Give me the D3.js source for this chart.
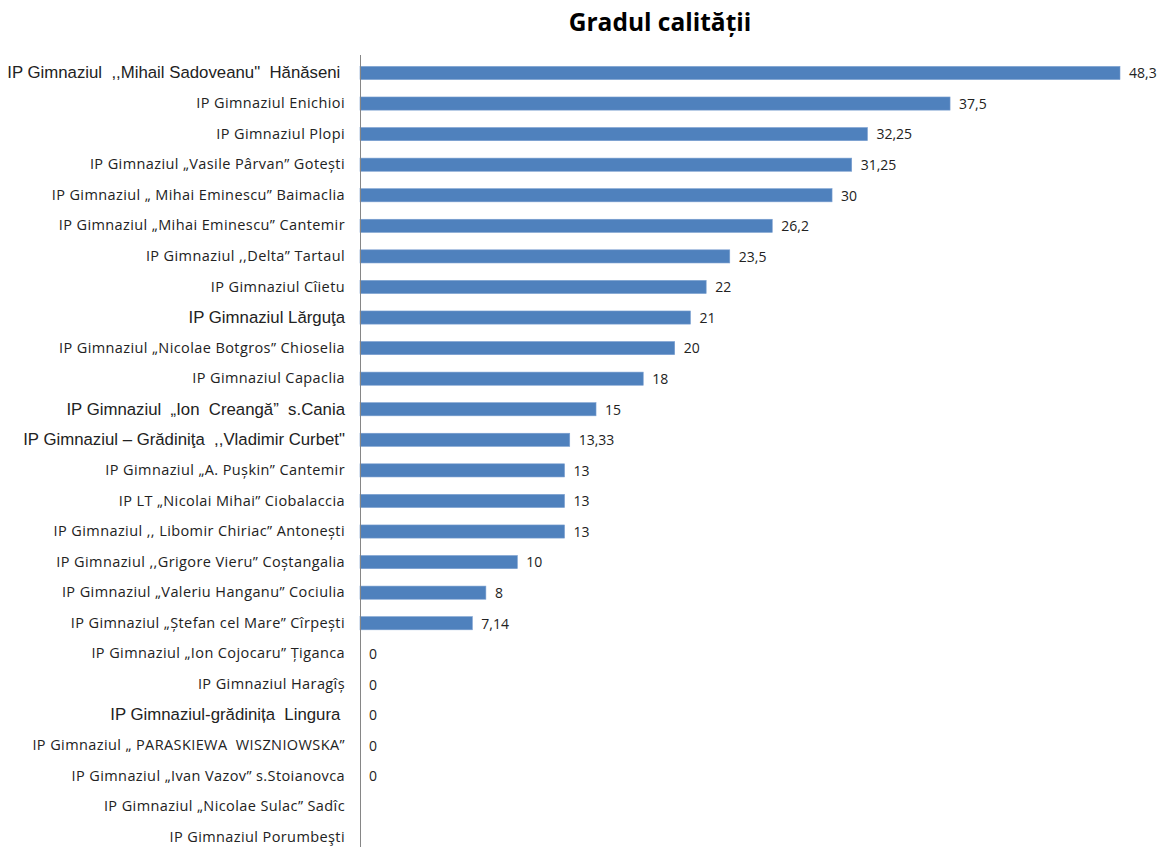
<!DOCTYPE html>
<html><head><meta charset="utf-8">
<script src="https://cdn.jsdelivr.net/npm/d3@7"></script>
<style>
body{margin:0;background:#fff;}
svg{display:block;}
text{white-space:pre;}
</style></head>
<body>
<svg id="chart" width="1163" height="847"></svg>
<script>
const title = "Gradul calității";
const categories = [
  "IP Gimnaziul  ,,Mihail Sadoveanu\"  Hănăseni ",
  "IP Gimnaziul Enichioi",
  "IP Gimnaziul Plopi",
  "IP Gimnaziul „Vasile Pârvan” Gotești",
  "IP Gimnaziul „ Mihai Eminescu” Baimaclia",
  "IP Gimnaziul „Mihai Eminescu” Cantemir",
  "IP Gimnaziul ,,Delta” Tartaul",
  "IP Gimnaziul Cîietu",
  "IP Gimnaziul Lărguţa",
  "IP Gimnaziul „Nicolae Botgros” Chioselia",
  "IP Gimnaziul Capaclia",
  "IP Gimnaziul  „Ion  Creangă”  s.Cania",
  "IP Gimnaziul – Grădiniţa  ,,Vladimir Curbet\"",
  "IP Gimnaziul „A. Pușkin” Cantemir",
  "IP LT „Nicolai Mihai” Ciobalaccia",
  "IP Gimnaziul ,, Libomir Chiriac” Antonești",
  "IP Gimnaziul ,,Grigore Vieru” Coștangalia",
  "IP Gimnaziul „Valeriu Hanganu” Cociulia",
  "IP Gimnaziul „Ștefan cel Mare” Cîrpești",
  "IP Gimnaziul „Ion Cojocaru” Țiganca",
  "IP Gimnaziul Haragîș",
  "IP Gimnaziul-grădinița  Lingura ",
  "IP Gimnaziul „ PARASKIEWA  WISZNIOWSKA”",
  "IP Gimnaziul „Ivan Vazov” s.Stoianovca",
  "IP Gimnaziul „Nicolae Sulac” Sadîc",
  "IP Gimnaziul Porumbeşti"
];
const values = [48.3, 37.5, 32.25, 31.25, 30, 26.2, 23.5, 22, 21, 20, 18, 15, 13.33, 13, 13, 13, 10, 8, 7.14, 0, 0, 0, 0, 0, null, null];
// indices of labels rendered in the larger Arial-like face
const arialLabelIdx = [0, 8, 11, 12, 21];

const svg = d3.select("#chart");
const x0 = 360;
const x = d3.scaleLinear().domain([0, 48.3]).range([x0, 1120]);
const y = d3.scaleBand().domain(d3.range(categories.length)).range([57.7, 852.5]).paddingInner(0.57).paddingOuter(0.285);

svg.append("text")
  .attr("x", 660).attr("y", 31)
  .attr("text-anchor", "middle")
  .attr("font-family", "'Open Sans', 'DejaVu Sans', sans-serif")
  .attr("font-weight", "bold")
  .attr("font-size", 24.5)
  .attr("fill", "#000")
  .text(title);

const fmt = v => String(v).replace(".", ",");

svg.append("g").selectAll("rect")
  .data(values.map((v, i) => ({v, i})).filter(d => d.v !== null && d.v > 0))
  .join("rect")
  .attr("x", x0)
  .attr("y", d => y(d.i))
  .attr("width", d => x(d.v) - x0)
  .attr("height", y.bandwidth())
  .attr("fill", "#4F81BD")
  .attr("stroke", "#7A9FD0")
  .attr("stroke-width", 0.6);

svg.append("g").selectAll("text")
  .data(values.map((v, i) => ({v, i})).filter(d => d.v !== null))
  .join("text")
  .attr("x", d => x(d.v) + 9)
  .attr("y", d => y(d.i) + y.bandwidth() / 2)
  .attr("dy", "0.38em")
  .attr("font-family", "'Open Sans', sans-serif")
  .attr("font-size", 14)
  .attr("fill", "#222")
  .text(d => fmt(d.v));

const yAxis = d3.axisLeft(y).tickSize(0).tickPadding(15).tickFormat(i => categories[i]);
const ag = svg.append("g").attr("transform", `translate(${x0},0)`).call(yAxis);
ag.select(".domain").remove();
ag.selectAll(".tick text")
  .attr("fill", "#222")
  .attr("font-family", i => arialLabelIdx.includes(i) ? "'Liberation Sans', Arial, sans-serif" : "'Open Sans', sans-serif")
  .attr("font-size", i => arialLabelIdx.includes(i) ? 16.8 : 14.5)
  .attr("letter-spacing", i => arialLabelIdx.includes(i) ? 0 : 0.4);

svg.append("line")
  .attr("x1", x0 + 0.5).attr("x2", x0 + 0.5)
  .attr("y1", 55).attr("y2", 847)
  .attr("stroke", "#868686").attr("stroke-width", 1);
</script>
</body></html>
